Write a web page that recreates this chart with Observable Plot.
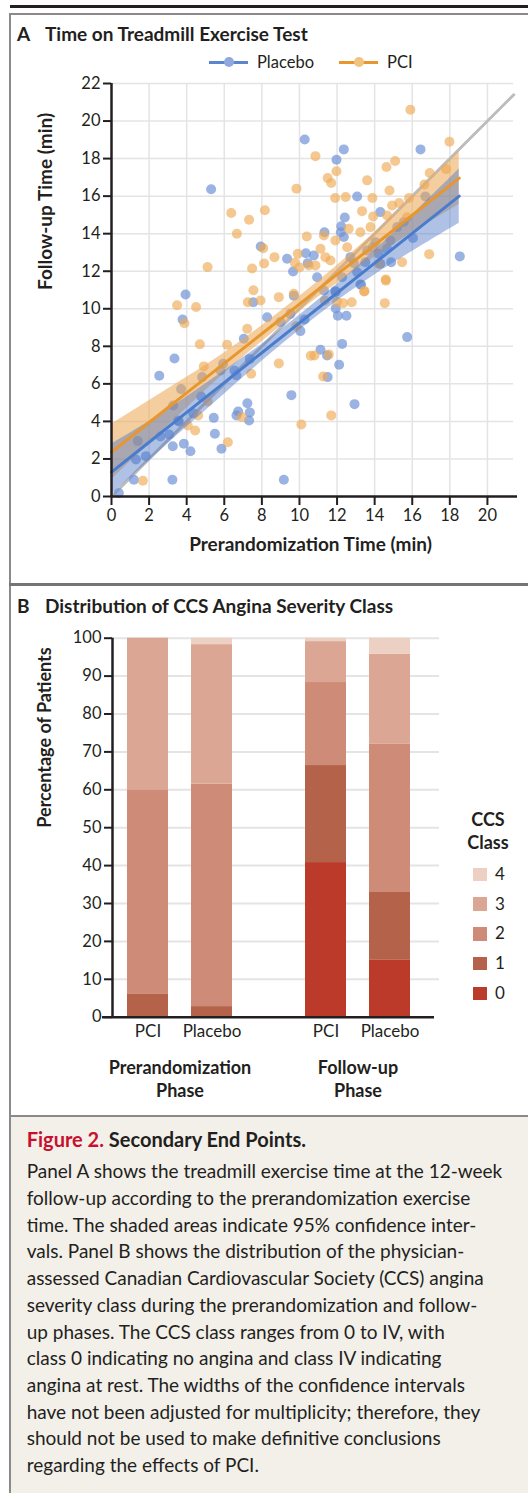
<!DOCTYPE html>
<html><head><meta charset="utf-8">
<script src="https://cdn.jsdelivr.net/npm/d3@7"></script>
<script src="https://cdn.jsdelivr.net/npm/@observablehq/plot@0.6"></script>
<style>
body{margin:0;background:#fff;}
#root{position:relative;width:528px;height:1493px;overflow:hidden;font-family:Lato,"Open Sans",sans-serif;color:#231f20;background:#fff;}
.abs{position:absolute;white-space:nowrap;}
.plot{position:absolute;left:0;}
</style></head><body><div id="root"></div>
<script>
// ---------- Panel A data ----------
const placeboPts = [
 [10.28,19.02],[5.3,16.37],[7.94,13.32],[9.34,12.66],[10.34,12.96],[9.66,11.99],[3.94,10.76],[12.36,18.49],
 [16.44,18.49],[11.97,17.94],[13.07,15.98],[12.41,14.86],[12.22,14.4],[14.3,15.15],[11.33,14.08],[12.36,13.82],
 [16.04,13.77],[18.53,12.79],[14.88,12.48],[14.3,12.4],[13.24,11.29],[11.91,10.94],[10.76,12.84],[3.78,9.43],
 [3.35,7.35],[2.54,6.43],[7.54,10.35],[6.54,6.71],[9.57,5.4],[9.17,0.89],[7.23,4.97],[7.36,4.48],[7.32,4.05],
 [6.74,4.53],[6.65,4.32],[5.44,4.19],[5.5,3.34],[5.85,2.54],[4.34,4.44],[3.85,2.81],[4.2,2.41],[3.26,2.68],
 [3.07,3.3],[2.6,3.2],[3.58,4.0],[1.4,2.95],[1.83,2.15],[1.3,1.97],[1.19,0.89],[3.24,0.89],[0.39,0.18],
 [3.7,5.72],[10.27,9.43],[10.05,8.81],[13.28,11.28],[11.93,10.9],[11.93,10.02],[12.04,9.63],[12.5,9.63],
 [15.73,8.49],[12.27,8.13],[11.12,7.82],[11.47,7.51],[12.11,7.02],[11.5,6.36],[12.93,4.92],[6.65,6.45],
 [5.8,6.71],[14.66,13.2],[12.2,14.08],[12.89,12.43],[13.07,11.95],[13.5,12.48],[13.9,13.28],[11.3,10.97],
 [16.7,15.98],[7.04,8.4],[7.36,7.33],[5.94,7.07],[4.82,6.36],[4.77,5.33],[3.28,4.85],[3.54,4.05],[9.52,9.73],
 [8.99,9.29],[8.28,9.55],[9.7,10.7],[10.44,12.43],[12.27,11.68],[14.22,12.93],[10.94,11.68],[15.2,14.35],
 [15.55,14.62],[14.84,13.64],[14.04,13.55],[13.6,13.1],[12.71,12.75]
];
const pciPts = [
 [9.84,16.4],[6.37,15.1],[8.16,15.25],[7.32,14.74],[6.67,14.0],[10.39,13.85],[8.07,13.23],[8.67,12.75],
 [9.91,12.93],[9.75,12.45],[8.12,12.41],[5.11,12.22],[7.48,12.15],[7.55,10.99],[15.9,20.6],[17.98,18.9],
 [10.85,18.13],[11.97,17.33],[11.5,16.96],[11.69,16.7],[14.63,17.55],[15.09,17.87],[13.6,16.84],[14.79,16.3],
 [11.9,15.9],[12.46,15.95],[13.88,15.9],[13.33,15.2],[13.92,14.92],[12.62,14.26],[16.93,17.23],[17.8,17.44],
 [16.65,16.62],[15.83,15.9],[15.3,15.63],[16.9,12.91],[15.46,12.48],[14.59,11.56],[13.46,10.94],[3.49,10.19],
 [4.5,10.09],[3.88,9.23],[4.7,8.11],[7.25,10.35],[6.15,8.08],[7.43,6.54],[8.9,7.09],[10.1,3.84],[6.93,4.23],
 [6.19,2.89],[5.12,5.06],[4.61,4.32],[4.45,3.52],[4.06,3.78],[1.67,0.84],[9.84,9.07],[10.6,7.5],[13.44,10.92],
 [14.6,11.5],[11.35,10.44],[12.0,10.37],[12.32,10.3],[12.78,10.35],[14.54,10.3],[10.8,7.51],[11.56,7.57],
 [11.26,6.39],[11.69,4.32],[7.93,10.44],[7.22,8.93],[4.91,6.93],[11.3,13.9],[11.91,13.64],[13.24,14.08],
 [13.78,14.35],[14.93,15.5],[14.22,12.4],[11.12,13.2],[10.5,12.31],[8.9,10.62],[9.7,10.8],[10.0,12.2],
 [11.38,12.75],[14.66,14.97],[15.73,14.88],[12.54,13.28],[11.65,12.57],[10.85,12.31]
];
// regression fits and 95% CI
const fitX       = [0, 2, 4, 6, 8, 10, 12, 14, 16, 18.5];
const placeboFit = [1.3, 2.89, 4.48, 6.07, 7.66, 9.25, 10.84, 12.43, 14.02, 16.0];
const placeboLo  = [0.1, 1.9, 3.7, 5.45, 7.2, 8.85, 10.4, 11.8, 13.05, 14.55];
const placeboHi  = [2.8, 4.0, 5.3, 6.7, 8.1, 9.65, 11.3, 13.1, 15.0, 17.45];
const pciFit     = [2.36, 3.94, 5.52, 7.09, 8.67, 10.25, 11.83, 13.4, 14.98, 16.96];
const pciLo      = [0.9, 2.8, 4.7, 6.55, 8.25, 9.85, 11.35, 12.75, 14.05, 15.55];
const pciHi      = [3.85, 5.1, 6.35, 7.65, 9.1, 10.65, 12.3, 14.05, 15.9, 18.4];
const identityX  = [0, 21.4];
const aXTicks = [0,2,4,6,8,10,12,14,16,18,20];
const aYTicks = [0,2,4,6,8,10,12,14,16,18,20,22];

// ---------- Panel B data ----------
const phases = ["Prerandomization Phase", "Follow-up Phase"];
const arms = ["PCI", "Placebo"];
const ccsClasses = ["0","1","2","3","4"];
const ccsColors = ["#bb3a2a","#b5624a","#cd8b78","#dba693","#ecd0c3"];
const pciPre        = [0, 6, 54, 40, 0];
const placeboPre    = [0, 2.8, 58.7, 36.8, 1.7];
const pciFollow     = [40.8, 25.6, 21.9, 10.8, 0.9];
const placeboFollow = [15.0, 17.9, 39.1, 23.8, 4.2];
const bYTicks = [0,10,20,30,40,50,60,70,80,90,100];

// ---------- tables ----------
const toRows = (pts, group) => pts.map(([x, y]) => ({x, y, group}));
const placeboRows = toRows(placeboPts, "Placebo");
const pciRows = toRows(pciPts, "PCI");
const bandRows = (lo, hi, fit) => fitX.map((x, i) => ({x, lo: lo[i], hi: hi[i], fit: fit[i]}));
const placeboBand = bandRows(placeboLo, placeboHi, placeboFit);
const pciBand = bandRows(pciLo, pciHi, pciFit);
const identity = identityX.map(v => ({x: v, y: v}));

const barRows = [];
[[phases[0], arms[0], pciPre], [phases[0], arms[1], placeboPre],
 [phases[1], arms[0], pciFollow], [phases[1], arms[1], placeboFollow]].forEach(([phase, arm, vals]) => {
  vals.forEach((v, i) => barRows.push({phase, arm, cls: ccsClasses[i], pct: v}));
});

const ink = "#231f20";
const gridC = "#e4e4e4";
const root = document.getElementById("root");
function el(tag, css, html) {
  const e = document.createElement(tag);
  e.className = "abs";
  Object.assign(e.style, css);
  if (html != null) e.innerHTML = html;
  root.appendChild(e);
  return e;
}

// frame lines
el("div", {left:"10px", top:"5px", width:"518px", height:"2.5px", background:ink});
el("div", {left:"9px", top:"13px", width:"519px", height:"2px", background:"#8a8a8a"});
el("div", {left:"9px", top:"13px", width:"2px", height:"1480px", background:"#8a8a8a"});
el("div", {left:"9px", top:"583px", width:"519px", height:"3px", background:"#747474"});
el("div", {left:"11px", top:"1117px", width:"517px", height:"376px", background:"#f3f0ea"});
el("div", {left:"9px", top:"1115px", width:"519px", height:"2px", background:"#8a8a8a"});

// titles
const titleCss = {fontSize:"19px", fontWeight:"700", lineHeight:"22px"};
el("div", {...titleCss, left:"17px", top:"23px"}, "A");
el("div", {...titleCss, left:"45px", top:"23px"}, "Time on Treadmill Exercise Test");
el("div", {...titleCss, left:"17px", top:"595px"}, "B");
el("div", {...titleCss, left:"45px", top:"595px"}, "Distribution of CCS Angina Severity Class");

// legend A
const legA = [["Placebo", "#5b86cc", "#8fa8dd", 209], ["PCI", "#e8962e", "#f2c27f", 339]];
legA.forEach(([name, lc, dc, x0]) => {
  el("div", {left: x0 + "px", top: "60.5px", width: "39px", height: "3px", background: lc});
  el("div", {left: (x0 + 14.5) + "px", top: "57px", width: "10px", height: "10px", borderRadius: "50%", background: dc});
  el("div", {left: (x0 + 48) + "px", top: "51.5px", fontSize: "16.5px", lineHeight: "20px"}, name);
});

// ---------- Panel A plot ----------
const plotA = Plot.plot({
  width: 528, height: 500,
  marginLeft: 111, marginRight: 11, marginTop: 13, marginBottom: 74,
  x: {domain: [0, 21.6], axis: null},
  y: {domain: [0, 22], axis: null},
  style: {fontFamily: "Lato, sans-serif", fontSize: "16.5px", color: ink, background: "transparent", overflow: "visible"},
  marks: [
    Plot.ruleX(aXTicks.filter(d => d > 0), {stroke: gridC, strokeWidth: 1.5}),
    Plot.ruleY(aYTicks.filter(d => d > 0), {stroke: gridC, strokeWidth: 1.5, insetRight: 4}),
    Plot.line(identity, {x: "x", y: "y", stroke: "#bcbcbc", strokeWidth: 3}),
    Plot.dot(placeboRows, {x: "x", y: "y", r: 5, fill: "#6f93d6", fillOpacity: 0.7}),
    Plot.dot(pciRows, {x: "x", y: "y", r: 5, fill: "#eeaa55", fillOpacity: 0.65}),
    Plot.areaY(pciBand, {x: "x", y1: "lo", y2: "hi", fill: "#eda552", fillOpacity: 0.55, curve: "natural"}),
    Plot.areaY(placeboBand, {x: "x", y1: "lo", y2: "hi", fill: "#4d78c8", fillOpacity: 0.45, curve: "natural"}),
    Plot.line(pciBand, {x: "x", y: "fit", stroke: "#e8962e", strokeWidth: 3}),
    Plot.line(placeboBand, {x: "x", y: "fit", stroke: "#4a7ccc", strokeWidth: 3}),
    Plot.ruleY([0], {stroke: ink, strokeWidth: 2.5}),
    Plot.ruleX([0], {stroke: ink, strokeWidth: 2.5}),
    Plot.axisX(aXTicks, {tickSize: 9, tickPadding: 4, strokeWidth: 2, label: null}),
    Plot.axisY(aYTicks, {tickSize: 8, tickPadding: 3, strokeWidth: 2, label: null}),
    Plot.text(["Follow-up Time (min)"], {frameAnchor: "left", rotate: -90, dx: -66, fontWeight: "bold", fontSize: 19}),
    Plot.text(["Prerandomization Time (min)"], {frameAnchor: "bottom", dy: 54, dx: -4, fontWeight: "bold", fontSize: 19})
  ]
});
plotA.classList.add("plot");
plotA.style.top = "70px";
root.appendChild(plotA);

// ---------- Panel B plots ----------
const commonB = {width: 528, height: 480, marginTop: 12.7, marginBottom: 88.3, marginLeft: 112};
const styleB = {fontFamily: "Lato, sans-serif", fontSize: "16.5px", color: ink, background: "transparent", overflow: "visible"};
const plotBbg = Plot.plot({
  ...commonB, marginRight: 89,
  x: {domain: [0, 1], axis: null},
  y: {domain: [0, 100], axis: null},
  style: styleB,
  marks: [
    Plot.ruleY(bYTicks.filter(d => d > 0), {stroke: gridC, strokeWidth: 2}),
    Plot.axisY(bYTicks, {tickSize: 8, tickPadding: 3, strokeWidth: 2, label: null}),
    Plot.text(["Percentage of Patients"], {frameAnchor: "left", rotate: -90, dx: -67, fontWeight: "bold", fontSize: 18})
  ]
});
plotBbg.classList.add("plot");
plotBbg.style.top = "625px";
root.appendChild(plotBbg);

const plotB = Plot.plot({
  ...commonB, marginRight: 102.5,
  fx: {domain: phases, paddingInner: 0.242, paddingOuter: 0, axis: null},
  x: {domain: arms, paddingInner: 0.36, paddingOuter: 0.22, axis: null},
  y: {domain: [0, 100], axis: null},
  color: {domain: ccsClasses, range: ccsColors},
  style: styleB,
  marks: [
    Plot.barY(barRows, {fx: "phase", x: "arm", y: "pct", fill: "cls"}),
    Plot.axisX({tickSize: 0, tickPadding: 8, label: null, fontSize: 17}),
    Plot.text(phases, {fx: d => d, text: d => d.replace(" ", "\n"), frameAnchor: "bottom", dy: 41, lineAnchor: "top", lineHeight: 1.25, fontWeight: "bold", fontSize: 18})
  ]
});
plotB.classList.add("plot");
plotB.style.top = "625px";
root.appendChild(plotB);

// axis lines of panel B drawn over bars
const plotBaxes = Plot.plot({
  ...commonB, marginRight: 89,
  x: {domain: [0, 1], axis: null},
  y: {domain: [0, 100], axis: null},
  style: styleB,
  marks: [
    Plot.ruleY([0], {stroke: ink, strokeWidth: 2.5, insetLeft: -10, insetRight: 5}),
    Plot.ruleX([0], {stroke: ink, strokeWidth: 2.5})
  ]
});
plotBaxes.classList.add("plot");
plotBaxes.style.top = "625px";
plotBaxes.style.pointerEvents = "none";
root.appendChild(plotBaxes);

// legend B
el("div", {left: "453px", top: "808px", width: "70px", textAlign: "center", fontSize: "18px", fontWeight: "700", lineHeight: "23px"}, "CCS<br>Class");
ccsClasses.slice().reverse().forEach((c, i) => {
  const cy = 874.3 + i * 29.75;
  el("div", {left: "473.3px", top: (cy - 6.8) + "px", width: "13.7px", height: "13.6px", background: ccsColors[+c]});
  el("div", {left: "495px", top: (cy - 10.5) + "px", fontSize: "17px", lineHeight: "20px"}, c);
});

// caption
el("div", {left: "26.7px", top: "1125.6px", fontSize: "20px", fontWeight: "700", lineHeight: "26.7px"},
  '<span style="color:#c8102e">Figure 2.</span> Secondary End Points.');
const captionLines = [
  "Panel A shows the treadmill exercise time at the 12-week",
  "follow-up according to the prerandomization exercise",
  "time. The shaded areas indicate 95% confidence inter-",
  "vals. Panel B shows the distribution of the physician-",
  "assessed Canadian Cardiovascular Society (CCS) angina",
  "severity class during the prerandomization and follow-",
  "up phases. The CCS class ranges from 0 to IV, with",
  "class 0 indicating no angina and class IV indicating",
  "angina at rest. The widths of the confidence intervals",
  "have not been adjusted for multiplicity; therefore, they",
  "should not be used to make definitive conclusions",
  "regarding the effects of PCI."
];
el("div", {left: "26.7px", top: "1158.3px", fontSize: "19px", lineHeight: "26.7px"}, captionLines.join("<br>"));
</script></body></html>
